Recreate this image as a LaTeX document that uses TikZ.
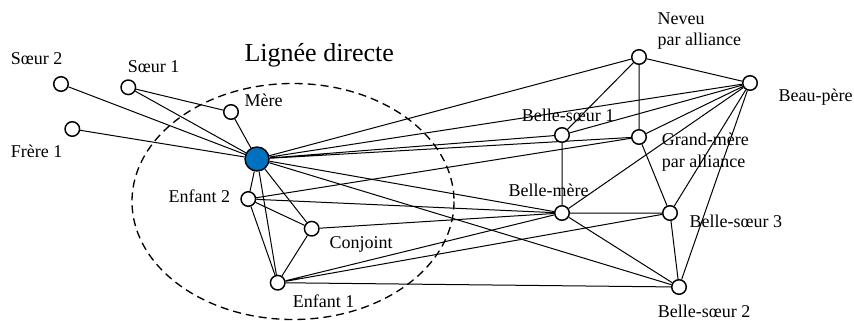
\documentclass[tikz,border=0pt]{standalone}
\usepackage{fontspec}
\setmainfont{Liberation Serif}
\usepackage{xcolor}
\usepackage{tikz}
\usetikzlibrary{backgrounds}
\definecolor{egoblue}{RGB}{0,112,192}

\begin{document}
\begin{tikzpicture}[
  x=0.75pt, y=-0.75pt,
  every node/.style={font=\fontsize{13.5}{16}\selectfont},
  person/.style={draw, circle, fill=white, line width=1.1pt, minimum size=10.9pt, inner sep=0pt},
  egonode/.style={person, fill=egoblue, minimum size=18pt},
  link/.style={line width=0.75pt},
  kinlabel/.style={inner sep=0pt, anchor=base west, align=left},
]
\useasboundingbox (0,0) rectangle (854,321);

% Direct line: dashed ellipse + title
\draw[line width=1pt, dash pattern=on 6pt off 3.75pt] (293,201.5) ellipse [x radius=161, y radius=118];
\node[kinlabel, font=\fontsize{19.5}{23}\selectfont] (lignee) at (244.3,62) {Lignée directe};

% Ego and blood relatives
\node[egonode] (ego) at (257,159) {};
\node[person] (soeur2) at (61,84) {};
\node[person] (soeur1) at (128.3,87.3) {};
\node[person] (frere1) at (72.3,129) {};
\node[person] (mere) at (231,112) {};
\node[person] (enfant2) at (248.3,199) {};
\node[person] (conjoint) at (311.7,228.7) {};
\node[person] (enfant1) at (277.7,282.7) {};

% Relatives by marriage
\node[person] (neveu) at (639,57) {};
\node[person] (beaupere) at (750,83) {};
\node[person] (bsoeur1) at (562,135) {};
\node[person] (grandmere) at (639,137) {};
\node[person] (bellemere) at (562,213) {};
\node[person] (bsoeur3) at (670,213) {};
\node[person] (bsoeur2) at (679,287) {};

% Names (two-line names sit on their last baseline)
\node[kinlabel] at (10.7,64.5) {Sœur 2};
\node[kinlabel] at (127.7,72.5) {Sœur 1};
\node[kinlabel] at (10.7,157) {Frère 1};
\node[kinlabel] at (244.3,107) {Mère};
\node[kinlabel] at (168.3,202.5) {Enfant 2};
\node[kinlabel] at (329.3,248) {Conjoint};
\node[kinlabel] at (292.7,307) {Enfant 1};
\node[kinlabel] at (657.3,45.7) {Neveu\\par alliance};
\node[kinlabel] at (778.3,101.7) {Beau-père};
\node[kinlabel] at (521.7,121.7) {Belle-sœur 1};
\node[kinlabel] at (661.7,167.3) {Grand-mère\\par alliance};
\node[kinlabel] at (508.3,196.7) {Belle-mère};
\node[kinlabel] at (689.3,227.7) {Belle-sœur 3};
\node[kinlabel] at (657.7,317.3) {Belle-sœur 2};

\begin{scope}[on background layer]
% Links of ego
\draw[link] (ego) -- (soeur2) (ego) -- (soeur1) (ego) -- (frere1) (ego) -- (mere);
\draw[link] (ego) -- (enfant2) (ego) -- (conjoint) (ego) -- (enfant1);
\draw[link] (ego) -- (neveu) (ego) -- (beaupere) (ego) -- (bsoeur1) (ego) -- (grandmere);
\draw[link] (ego) -- (bellemere) (ego) -- (bsoeur2);
% Family links
\draw[link] (soeur1) -- (mere);
\draw[link] (enfant2) -- (conjoint) (enfant2) -- (enfant1) (enfant2) -- (grandmere) (enfant2) -- (bellemere);
\draw[link] (conjoint) -- (enfant1) (conjoint) -- (bellemere);
\draw[link] (enfant1) -- (bellemere) (enfant1) -- (bsoeur3) (enfant1) -- (bsoeur2);
% Links by marriage
\draw[link] (neveu) -- (bsoeur1) (neveu) -- (grandmere) (neveu) -- (beaupere);
\draw[link] (beaupere) -- (bsoeur1) (beaupere) -- (grandmere) (beaupere) -- (bellemere);
\draw[link] (beaupere) -- (bsoeur3) (beaupere) -- (bsoeur2);
\draw[link] (bsoeur1) -- (bellemere) (grandmere) -- (bsoeur3);
\draw[link] (bellemere) -- (bsoeur3) (bellemere) -- (bsoeur2) (bsoeur3) -- (bsoeur2);
\end{scope}

\end{tikzpicture}
\end{document}
